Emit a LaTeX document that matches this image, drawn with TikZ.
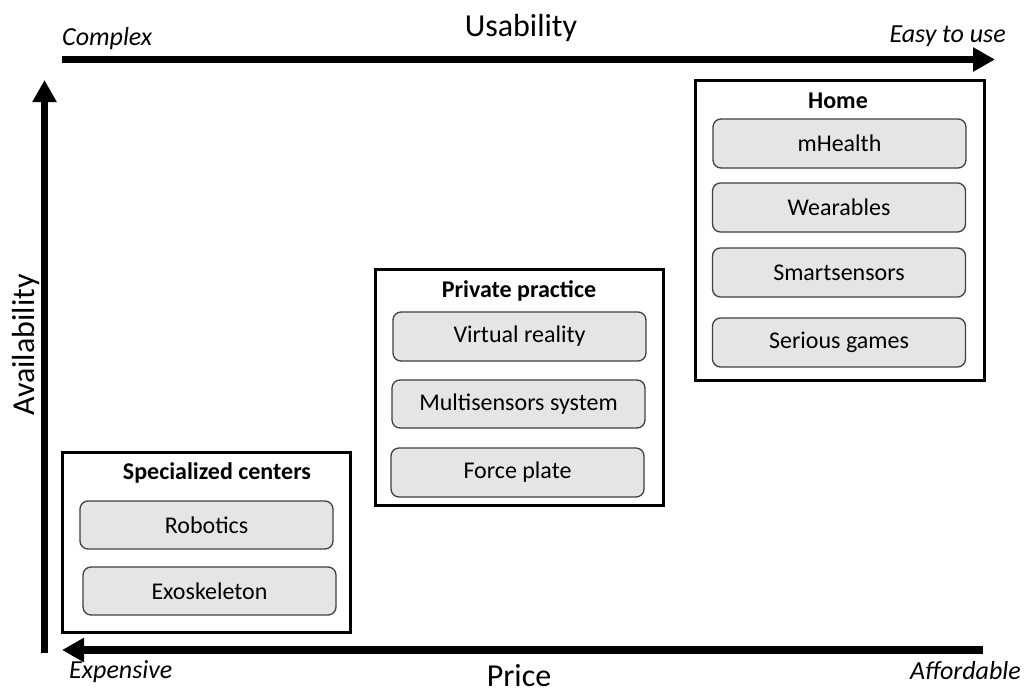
\documentclass[tikz,border=0pt]{standalone}
\usepackage{fontspec}
\setmainfont{Carlito}
\usetikzlibrary{arrows.meta}
\tikzset{
  axis/.style={line width=7.5pt, -{Triangle[length=22pt,width=23pt]}},
  groupbox/.style={draw=black, line width=3pt, fill=white},
  item/.style={draw=black!75, line width=1.3pt, fill=black!10, rounded corners=8pt, inner sep=0pt, font=\fontsize{24}{28}\selectfont},
  grouptitle/.style={font=\bfseries\fontsize{24}{28}\selectfont, inner sep=0pt},
  axtitle/.style={font=\fontsize{32}{36}\selectfont, inner sep=0pt},
  axend/.style={font=\itshape\fontsize{26}{30}\selectfont, inner sep=0pt},
}
\begin{document}
\begin{tikzpicture}[x=1pt,y=-1pt]
\useasboundingbox (0,0) rectangle (1025,693);
% axes
\coordinate (ts) at (62,59.5);
\coordinate (te) at (995,59.5);
\coordinate (ls) at (44.5,653);
\coordinate (le) at (44.5,80);
\coordinate (bs) at (983,650);
\coordinate (be) at (62,650);
\draw[axis] (ts) -- (te);
\draw[axis] (ls) -- (le);
\draw[axis] (bs) -- (be);
\node[axtitle] (usab) at (521,28) {Usability};
\node[axend, anchor=west] (cplx) at (62,39) {Complex};
\node[axend, anchor=east] (easy) at (1006,36) {Easy to use};
\node[axtitle, rotate=90] (avail) at (26,345) {Availability};
\node[axtitle] (price) at (519,676) {Price};
\node[axend, anchor=west] (exp) at (69,672) {Expensive};
\node[axend, anchor=east] (aff) at (1021,671) {Affordable};
% Specialized centers
\draw[groupbox] (62,452) rectangle (350,632);
\node[grouptitle] (spec) at (217,473) {Specialized centers};
\node[item, minimum width=253pt, minimum height=48pt] (robo) at (206.5,525) {Robotics};
\node[item, minimum width=253pt, minimum height=48pt] (exo) at (209.5,591) {Exoskeleton};
% Private practice
\draw[groupbox] (375,269) rectangle (663,505);
\node[grouptitle] (priv) at (519,291) {Private practice};
\node[item, minimum width=253pt, minimum height=49pt] (vr) at (519.5,336.5) {Virtual reality};
\node[item, minimum width=253pt, minimum height=48pt] (multi) at (518.5,404) {Multisensors system};
\node[item, minimum width=253pt, minimum height=49pt] (force) at (517.5,472.5) {Force plate};
% Home
\draw[groupbox] (695,80) rectangle (984,380);
\node[grouptitle] (home) at (838,101) {Home};
\node[item, minimum width=253pt, minimum height=49pt] (mh) at (839.5,143.5) {mHealth};
\node[item, minimum width=253pt, minimum height=49pt] (wear) at (839,207.5) {Wearables};
\node[item, minimum width=253pt, minimum height=49pt] (smart) at (839,272.5) {Smartsensors};
\node[item, minimum width=253pt, minimum height=49pt] (serious) at (839,342.5) {Serious games};
\end{tikzpicture}
\end{document}
